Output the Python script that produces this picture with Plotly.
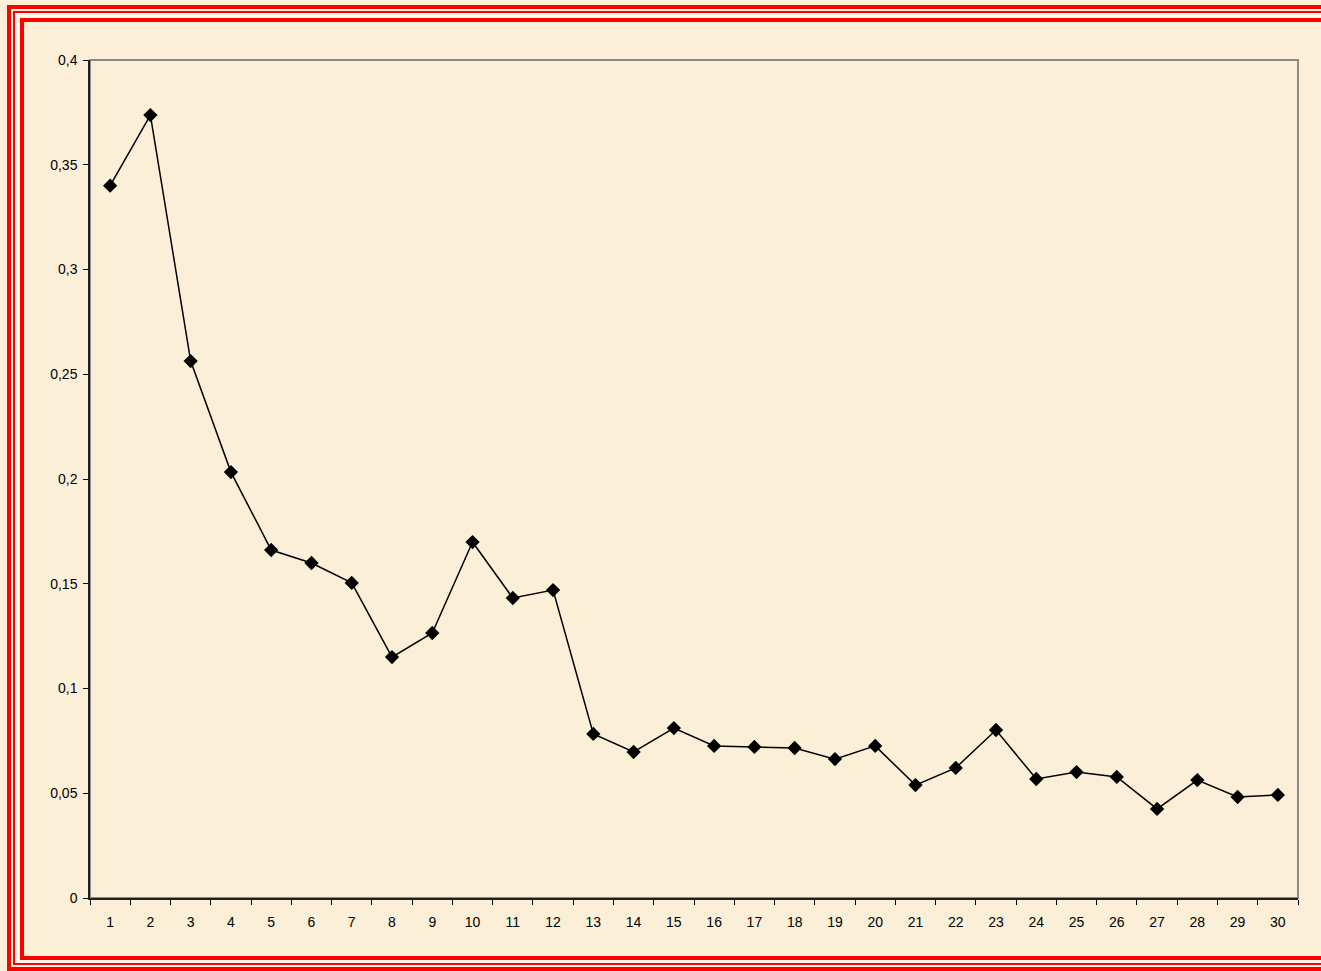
import plotly.graph_objects as go

categories = [str(i) for i in range(1, 31)]
values = [0.340, 0.3737, 0.2563, 0.2033, 0.1661, 0.1599, 0.1504, 0.1150, 0.1265, 0.1699,
          0.1432, 0.1470, 0.0783, 0.0697, 0.0811, 0.0726, 0.0721, 0.0716, 0.0663, 0.0726,
          0.0539, 0.0621, 0.0802, 0.0568, 0.0601, 0.0578, 0.0425, 0.0563, 0.0482, 0.0492]
y_ticks = [0, 0.05, 0.1, 0.15, 0.2, 0.25, 0.3, 0.35, 0.4]

W, H = 1321, 971
L, R, T, B = 90, 23, 60, 73
PW, PH = W - L - R, H - T - B

def px(x):
    return (x - L) / PW

def py(y):
    return (H - B - y) / PH

fig = go.Figure()
fig.add_trace(go.Scatter(
    x=categories, y=values, mode="lines+markers",
    line=dict(color="black", width=1.5),
    marker=dict(symbol="diamond", size=11, color="black"),
    showlegend=False, hoverinfo="x+y",
))

shapes = []
shapes.append(dict(type="rect", xref="paper", yref="paper", x0=0, x1=1, y0=0, y1=1,
                   line=dict(color="#8a8a8a", width=2), layer="below"))
# light strips between red lines
for (x0, y0, x1, y1, w) in [(11.5, 9.5, 1337, 966.5, 3), (17.5, 16, 1331, 961, 5)]:
    shapes.append(dict(type="rect", xref="paper", yref="paper",
                       x0=px(x0), x1=px(x1), y0=py(y1), y1=py(y0),
                       line=dict(color="#FFF6EC", width=w), layer="above"))
for (x0, y0, x1, y1, w) in [(9, 7, 1340, 969, 4), (14, 12, 1335, 964, 2), (22, 20, 1327, 958, 4)]:
    shapes.append(dict(type="rect", xref="paper", yref="paper",
                       x0=px(x0), x1=px(x1), y0=py(y1), y1=py(y0),
                       line=dict(color="#ff0000", width=w), layer="above"))

fig.update_layout(
    width=W, height=H,
    margin=dict(l=L, r=R, t=T, b=B),
    paper_bgcolor="#FBF0D7", plot_bgcolor="#FBF0D7",
    separators=", ",
    font=dict(family="Liberation Sans, Arial, sans-serif", size=14, color="black"),
    shapes=shapes,
    xaxis=dict(type="category", range=[-0.5, 29.5], tickson="boundaries", ticks="outside", ticklen=5,
               tickcolor="black", showline=True, linecolor="#222222", linewidth=1.5,
               showgrid=False, zeroline=False, tickfont=dict(size=14), ticklabelstandoff=10),
    yaxis=dict(range=[0, 0.4], tickvals=y_ticks, ticks="outside", ticklen=5,
               tickcolor="black", showline=True, linecolor="#222222", linewidth=1.5,
               showgrid=False, zeroline=False, tickfont=dict(size=14), ticklabelstandoff=3),
)

fig.write_html("out.html", config={"displayModeBar": False},
               post_script="document.body.style.margin='0';document.body.style.overflow='hidden';")
